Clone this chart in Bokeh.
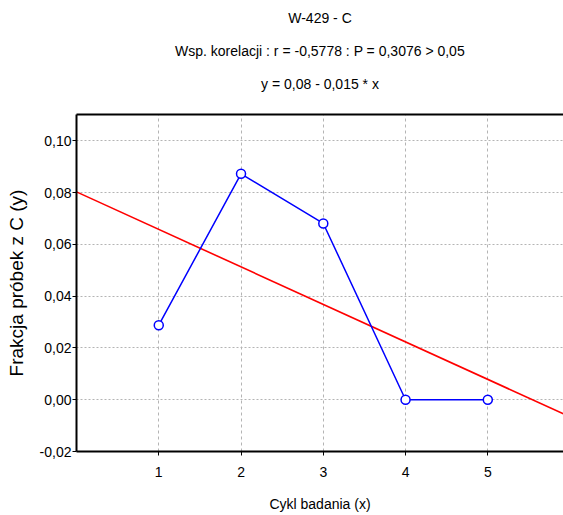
import numpy as np
from bokeh.plotting import figure
from bokeh.models import (Range1d, FixedTicker, CustomJSTickFormatter, LinearAxis, Title)
from bokeh.embed import file_html
from bokeh.resources import INLINE

# Survey cycles and fraction of samples containing C
cycles = [1, 2, 3, 4, 5]
fraction_c = [0.0288, 0.0873, 0.0681, 0.0, 0.0]

y_ticks = [-0.02, 0.0, 0.02, 0.04, 0.06, 0.08, 0.10]
x_ticks = [1, 2, 3, 4, 5]

title_lines = [
    "W-429 - C",
    "Wsp. korelacji : r = -0,5778 : P = 0,3076 > 0,05",
    "y = 0,08 - 0,015 * x",
]
x_label = "Cykl badania (x)"
y_label = "Frakcja próbek z C (y)"

FONT = "Liberation Sans"

X0, X1 = 0.0, 5.92
p = figure(width=563, height=515, output_backend="svg", toolbar_location=None,
           x_range=Range1d(X0, X1), y_range=Range1d(-0.02, 0.1102),
           min_border_left=76, min_border_right=0, min_border_bottom=64,
           min_border_top=10)
p.outline_line_color = None
p.background_fill_color = "white"
p.border_fill_color = "white"

# Least-squares regression line across the full x range
slope, intercept = np.polyfit(cycles, fraction_c, 1)
p.line([X0, X1], [intercept + slope * X0, intercept + slope * X1],
       line_color="#ff0000", line_width=1.6)

p.line(cycles, fraction_c, line_color="#0000ff", line_width=1.5)
p.scatter(cycles, fraction_c, size=9, marker="circle", fill_color="white",
          line_color="#0000ff", line_width=1.5)

fmt = CustomJSTickFormatter(code="return tick.toFixed(2).replace('.', ',');")

p.xaxis.ticker = FixedTicker(ticks=x_ticks)
p.yaxis.ticker = FixedTicker(ticks=y_ticks)
p.yaxis.formatter = fmt
for ax in (p.xaxis[0], p.yaxis[0]):
    ax.axis_line_color = "black"
    ax.axis_line_width = 2
    ax.major_tick_line_color = "black"
    ax.major_tick_in = 0
    ax.major_tick_out = 4
    ax.minor_tick_line_color = None
    ax.major_label_text_font = FONT
    ax.major_label_text_font_size = "14px"
    ax.major_label_text_color = "black"
    ax.axis_label_text_font_style = "normal"
    ax.axis_label_text_color = "black"

p.xaxis.axis_label = x_label
p.xaxis.axis_label_text_font = FONT
p.xaxis.axis_label_text_font_size = "14px"
p.xaxis.major_label_standoff = 11
p.xaxis.axis_label_standoff = 16

p.yaxis.axis_label = y_label
p.yaxis.axis_label_text_font = FONT
p.yaxis.axis_label_text_font_size = "19px"
p.yaxis.major_label_standoff = 1
p.yaxis.axis_label_standoff = 10

# top border of the frame; a blank label keeps a gap below the titles
top = LinearAxis(axis_line_color="black", axis_line_width=2,
                 major_tick_line_color=None, minor_tick_line_color=None,
                 major_label_text_font_size="0px", ticker=FixedTicker(ticks=[]),
                 axis_label="\u00a0", axis_label_text_font_size="11px",
                 axis_label_standoff=0)
p.add_layout(top, "above")

p.xgrid.grid_line_color = "#b4b4b4"
p.xgrid.grid_line_dash = "3 3"
p.ygrid.grid_line_color = "#b4b4b4"
p.ygrid.grid_line_dash = "2 2"

# Title block, added bottom line first so it sits nearest the frame
for txt in reversed(title_lines):
    p.add_layout(Title(text=txt, align="center", text_font=FONT,
                       text_font_size="14px", text_font_style="normal",
                       text_color="black", offset=-37, standoff=15), "above")

open("out.html", "w").write(file_html(p, INLINE))
